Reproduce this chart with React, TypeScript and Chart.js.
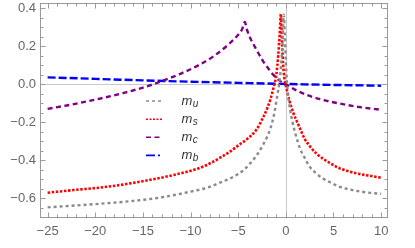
import React, { useEffect, useRef } from "react";
import { Chart, registerables } from "chart.js";

Chart.register(...registerables);

// ---- data ----
const seriesLabels = ["m_u", "m_s", "m_c", "m_b"];

const uX = [-25, -22, -19, -16, -13, -10, -8.3, -7, -5.5, -4.5, -3.8, -3, -2.4, -2, -1.6, -1.2, -0.9, -0.7, -0.5, -0.35, -0.22, -0.1, 0.0, 0.1, 0.2, 0.45, 0.7, 1.0, 1.5, 2.0, 2.5, 3.2, 3.9, 4.8, 5.66, 7.4, 8.6, 10];
const uY = [-0.648, -0.638, -0.627, -0.614, -0.595, -0.565, -0.545, -0.52, -0.487, -0.455, -0.42, -0.37, -0.32, -0.28, -0.23, -0.15, -0.06, 0.0, 0.1, 0.22, 0.365, 0.25, 0.12, 0.02, -0.04, -0.135, -0.2, -0.26, -0.34, -0.39, -0.434, -0.47, -0.496, -0.52, -0.54, -0.561, -0.57, -0.577];

const sX = [-25, -22.3, -18.8, -15.3, -11.8, -9, -8.3, -7, -5.87, -4.8, -4.1, -3.1, -2.34, -1.9, -1.64, -1.3, -1.0, -0.8, -0.65, -0.52, -0.45, -0.38, -0.28, -0.15, 0.1, 0.4, 0.8, 1.2, 1.5, 2.0, 2.5, 3.2, 3.9, 4.8, 5.66, 6.5, 7.4, 8.6, 10];
const sY = [-0.571, -0.557, -0.54, -0.513, -0.478, -0.44, -0.425, -0.39, -0.355, -0.315, -0.29, -0.24, -0.17, -0.12, -0.083, -0.02, 0.05, 0.15, 0.26, 0.369, 0.3, 0.2, 0.1, 0.03, -0.03, -0.09, -0.153, -0.2, -0.235, -0.29, -0.325, -0.365, -0.392, -0.42, -0.443, -0.457, -0.469, -0.48, -0.492];

const cX = [-25, -23, -21, -19, -17, -15, -13, -11, -9, -7.5, -6, -5, -4.6, -4.3, -4.1, -3.8, -3.07, -2.38, -1.8, -1.33, -0.7, 0, 0.42, 1.2, 2.17, 3.9, 5.66, 7.4, 10];
const cY = [-0.13, -0.112, -0.092, -0.07, -0.046, -0.018, 0.016, 0.056, 0.104, 0.15, 0.21, 0.26, 0.288, 0.327, 0.29, 0.25, 0.18, 0.12, 0.08, 0.05, 0.02, 0.0, -0.013, -0.035, -0.056, -0.083, -0.102, -0.118, -0.135];

const bX = [-25, -20, -15, -10, -5, 0, 5, 10];
const bY = [0.036, 0.028, 0.02, 0.013, 0.007, 0.001, -0.004, -0.008];

const xTickValues = [-25, -20, -15, -10, -5, 0, 5, 10];
const xTickLabels = ["\u221225", "\u221220", "\u221215", "\u221210", "\u22125", "0", "5", "10"];
const yTickValues = [-0.6, -0.4, -0.2, 0, 0.2, 0.4];
const yTickLabels = ["\u22120.6", "\u22120.4", "\u22120.2", "0.0", "0.2", "0.4"];

// ---- styles ----
const colors = ["#8a8a8a", "#ff0000", "#800080", "#0000ff"];
const dashes = [[3, 3], [2.5, 1.6], [5, 3.5], [8, 3]];
const legendDashes = [[3, 3], [2, 1.5], [5, 3.5], [9, 3, 2, 3]];
const FONT = '"Liberation Sans", Arial, sans-serif';

const pts = (xs: number[], ys: number[]) => xs.map((x, i) => ({ x, y: ys[i] }));

const framePlugin = {
  id: "mmaFrame",
  beforeDatasetsDraw(chart: any) {
    const { ctx, chartArea: a, scales } = chart;
    const xs = scales.x, ys = scales.y;
    ctx.save();
    ctx.strokeStyle = "#c9c9c9";
    ctx.lineWidth = 1;
    const x0 = Math.round(xs.getPixelForValue(0)) + 0.5;
    const y0 = Math.round(ys.getPixelForValue(0)) + 0.5;
    ctx.beginPath();
    ctx.moveTo(a.left, y0);
    ctx.lineTo(a.right, y0);
    ctx.moveTo(x0, a.top);
    ctx.lineTo(x0, a.bottom);
    ctx.stroke();
    ctx.restore();
  },
  afterDatasetsDraw(chart: any) {
    const { ctx, chartArea: a, scales } = chart;
    const xs = scales.x, ys = scales.y;
    ctx.save();
    ctx.strokeStyle = "#9a9a9a";
    ctx.lineWidth = 1;
    const L = Math.round(a.left) + 0.5, R = Math.round(a.right) - 0.5;
    const T = Math.round(a.top) + 0.5, B = Math.round(a.bottom) - 0.5;
    ctx.strokeRect(L, T, R - L, B - T);
    ctx.beginPath();
    for (let v = Math.ceil(xs.min); v <= xs.max; v += 1) {
      const p = Math.round(xs.getPixelForValue(v)) + 0.5;
      const len = v % 5 === 0 ? 5 : 3;
      ctx.moveTo(p, B); ctx.lineTo(p, B - len);
      ctx.moveTo(p, T); ctx.lineTo(p, T + len);
    }
    for (let k = Math.ceil(ys.min / 0.05 - 1e-6); k * 0.05 <= ys.max + 1e-9; k++) {
      const v = k * 0.05;
      const p = Math.round(ys.getPixelForValue(v)) + 0.5;
      const len = k % 4 === 0 ? 5 : 3;
      ctx.moveTo(L, p); ctx.lineTo(L + len, p);
      ctx.moveTo(R, p); ctx.lineTo(R - len, p);
    }
    ctx.stroke();

    ctx.fillStyle = "#666666";
    ctx.font = `13px ${FONT}`;
    ctx.textAlign = "center";
    ctx.textBaseline = "alphabetic";
    xTickValues.forEach((v, i) => {
      ctx.fillText(xTickLabels[i], xs.getPixelForValue(v), a.bottom + 17);
    });
    ctx.textAlign = "right";
    ctx.textBaseline = "middle";
    yTickValues.forEach((v, i) => {
      ctx.fillText(yTickLabels[i], a.left - 4, ys.getPixelForValue(v));
    });

    const rows = [101, 119.2, 137.3, 155.4];
    chart.data.datasets.forEach((ds: any, i: number) => {
      const y = rows[i];
      ctx.strokeStyle = colors[i];
      ctx.lineWidth = 1.6;
      ctx.setLineDash(legendDashes[i]);
      ctx.beginPath();
      ctx.moveTo(146, y);
      ctx.lineTo(162, y);
      ctx.stroke();
      ctx.setLineDash([]);
      const [base, sub] = String(ds.label).split("_");
      ctx.fillStyle = "#333333";
      ctx.textAlign = "left";
      ctx.textBaseline = "alphabetic";
      ctx.font = `italic 13px ${FONT}`;
      ctx.fillText(base, 181.5, y + 4);
      const w = ctx.measureText(base).width;
      ctx.font = `italic 10px ${FONT}`;
      ctx.fillText(sub, 181.5 + w + 0.5, y + 6);
    });
    ctx.restore();
  },
};

export default function App() {
  const ref = useRef<HTMLCanvasElement | null>(null);
  useEffect(() => {
    if (!ref.current) return;
    const series = [pts(uX, uY), pts(sX, sY), pts(cX, cY), pts(bX, bY)];
    const chart = new Chart(ref.current, {
      type: "line",
      data: {
        datasets: series.map((d, i) => ({
          label: seriesLabels[i],
          data: d,
          borderColor: colors[i],
          borderWidth: i === 1 ? 2.6 : 2.4,
          borderDash: dashes[i],
          pointRadius: 0,
          fill: false,
          cubicInterpolationMode: "monotone" as const,
        })),
      },
      options: {
        responsive: false,
        animation: false,
        layout: { padding: { left: 40, right: 27, top: 3, bottom: 30 } },
        plugins: { legend: { display: false }, tooltip: { enabled: false } },
        scales: {
          x: { type: "linear", min: -25.8, max: 10.72, display: false },
          y: { type: "linear", min: -0.704, max: 0.427, display: false },
        },
      },
      plugins: [framePlugin],
    });
    return () => chart.destroy();
  }, []);
  return (
    <div style={{ position: "fixed", left: 0, top: 0, width: 415, height: 248, background: "#fff" }}>
      <canvas ref={ref} width={415} height={248} />
    </div>
  );
}
